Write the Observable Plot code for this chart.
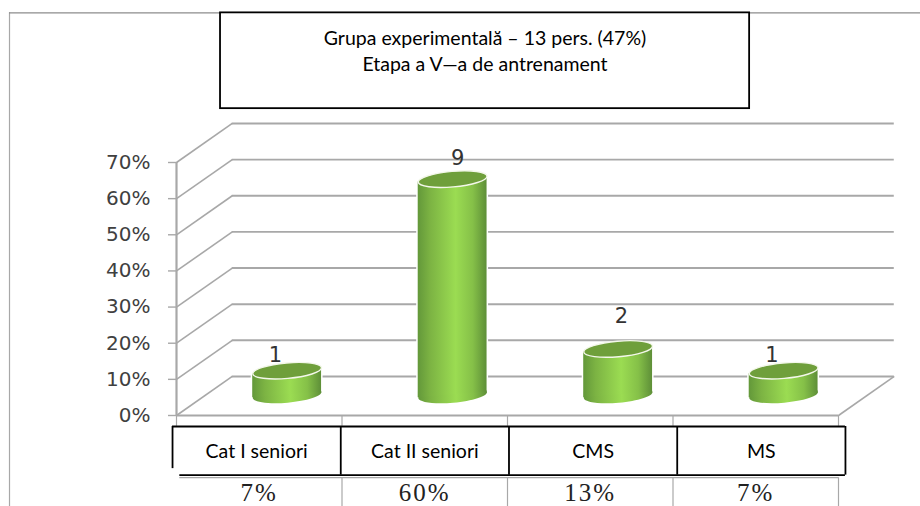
<!DOCTYPE html>
<html>
<head>
<meta charset="utf-8">
<script src="https://cdn.jsdelivr.net/npm/d3@7"></script>
<script src="https://cdn.jsdelivr.net/npm/@observablehq/plot@0.6"></script>
<style>
  html, body { margin: 0; padding: 0; background: #fff; overflow: hidden; }
  svg { display: block; }
  .serif-pct text { letter-spacing: 2px; }
</style>
</head>
<body>
<div id="chart"></div>
<script>
// Training-stage results by sports category
const categories = ["Cat I seniori", "Cat II seniori", "CMS", "MS"];
const percentages = [7, 60, 13, 7];
const athletes = [1, 9, 2, 1];
const percentTicks = [0, 10, 20, 30, 40, 50, 60, 70];
const titleLines = ["Grupa experimentală – 13 pers. (47%)", "Etapa a V—a de antrenament"];
// Hand placement of the count labels relative to each cylinder: [across, above]
const labelNudge = [[-0.07, 4.4], [0.03, 5.8], [0.02, 9.1], [-0.07, 4.4]];

// Oblique projection of the chart box, in scale units
const depthX = 0.337;
const depthY = 10.8;
const radiusX = 0.208;
const tilt = 0.8;

const ellipseSymbol = (aspect, degrees) => ({
  draw(context, size) {
    const rx = Math.sqrt(size / Math.PI);
    const ry = rx * aspect;
    const t = (degrees * Math.PI) / 180;
    const k = 0.5523;
    const pt = (u, v) => [u * Math.cos(t) - v * Math.sin(t), u * Math.sin(t) + v * Math.cos(t)];
    const seg = (a, b, c) => context.bezierCurveTo(...pt(...a), ...pt(...b), ...pt(...c));
    context.moveTo(...pt(rx, 0));
    seg([rx, ry * k], [rx * k, ry], [0, ry]);
    seg([-rx * k, ry], [-rx, ry * k], [-rx, 0]);
    seg([-rx, -ry * k], [-rx * k, -ry], [0, -ry]);
    seg([rx * k, -ry], [rx, -ry * k], [rx, 0]);
    context.closePath();
  }
});
const cap = ellipseSymbol(0.225, -5);

const bars = categories.map((name, i) => ({
  name,
  pct: percentages[i],
  count: athletes[i],
  center: i + 0.5 + depthX / 2,
  base: depthY / 2 + 0.3,
  top: percentages[i] + depthY / 2,
  labelX: i + 0.5 + depthX / 2 + labelNudge[i][0],
  labelY: percentages[i] + depthY / 2 + labelNudge[i][1]
}));

// Two-point strip per cylinder: its tilted side wall
const walls = bars.flatMap((b) => [
  { name: b.name, x: b.center - radiusX, y1: b.base - tilt, y2: b.top - tilt },
  { name: b.name, x: b.center + radiusX, y1: b.base + tilt, y2: b.top + tilt }
]);

const gradient = () => {
  const defs = d3.create("svg:defs");
  const g = defs.append("linearGradient").attr("id", "cylinder").attr("x1", 0).attr("x2", 1).attr("y1", 0).attr("y2", 0);
  [[0, "#63983a"], [0.18, "#7cb343"], [0.55, "#9bdc52"], [0.8, "#85c048"], [1, "#5e8f38"]].forEach(([o, c]) =>
    g.append("stop").attr("offset", o).attr("stop-color", c)
  );
  return defs.node();
};

const grey = "#a8a8a8";
const wallLine = { stroke: grey, strokeWidth: 1.9 };
const black = { stroke: "#000", strokeWidth: 1.8 };
const boxLeft = -0.024;
const boxStep = 1.0165;
const sans = "Lato";

const chart = Plot.plot({
  width: 920,
  height: 506,
  marginLeft: 176,
  marginRight: 82,
  marginTop: 162,
  marginBottom: 91,
  x: { type: "linear", domain: [0, 4], axis: null },
  y: { type: "linear", domain: [0, 70], axis: null },
  style: { background: "#fff", overflow: "visible" },
  marks: [
    gradient,
    // Page border, open on the right and at the bottom
    Plot.ruleX([-1.009], { y1: 111.4, y2: -25.2, stroke: grey, strokeWidth: 1.2 }),
    Plot.ruleY([111.4], { x1: -1.009, x2: 4.5, stroke: "#8c8c8c", strokeWidth: 1.2 }),

    // Walls of the chart box
    Plot.link(percentTicks, { x1: 0, x2: depthX, y1: (d) => d, y2: (d) => d + depthY, ...wallLine, strokeWidth: 1.6 }),
    Plot.ruleY(percentTicks, { x1: depthX, x2: 4 + depthX, y: (d) => d + depthY, ...wallLine }),
    Plot.ruleY([0], { x1: 0, x2: 4, ...wallLine, strokeWidth: 2.2 }),
    Plot.link([0], { x1: 4, x2: 4 + depthX, y1: 0, y2: depthY, ...wallLine, strokeWidth: 1.6 }),
    Plot.ruleX(d3.range(5), { y1: 0, y2: -3, ...wallLine, strokeWidth: 1.2 }),
    Plot.axisY(percentTicks, {
      anchor: "left",
      label: null,
      tickFormat: (d) => `${d}%`,
      tickSize: 8,
      tickPadding: 18,
      stroke: grey,
      strokeWidth: 1.4,
      fill: "#404040",
      fontSize: 20,
      fontFamily: "DejaVu Sans"
    }),
    Plot.ruleX([0], { y1: 0, y2: 70, ...wallLine, strokeWidth: 2.2 }),

    // Cylinders
    Plot.areaY(walls, { x: "x", y1: "y1", y2: "y2", z: "name", fill: "none", stroke: "#fff", strokeWidth: 3 }),
    Plot.dot(bars, { x: "center", y: "base", r: 34.5, symbol: cap, fill: "url(#cylinder)", strokeWidth: 0 }),
    Plot.areaY(walls, { x: "x", y1: "y1", y2: "y2", z: "name", fill: "url(#cylinder)" }),
    Plot.dot(bars, { x: "center", y: "top", r: 34.5, symbol: cap, fill: "#6f9f3b", stroke: "#f3f7ea", strokeWidth: 1.4 }),
    Plot.text(bars, {
      x: "labelX",
      y: "labelY",
      text: "count",
      fontSize: 21,
      fontFamily: "DejaVu Sans",
      fill: "#333"
    }),

    // Category table
    Plot.ruleY([-17.2], { x1: 0.02, x2: 4, stroke: grey, strokeWidth: 1.4 }),
    Plot.ruleX(d3.range(1, 5), { y1: -17.2, y2: -25.2, stroke: grey, strokeWidth: 1.2 }),
    Plot.ruleY([-3.05], { x1: boxLeft, x2: boxLeft + 4 * boxStep, ...black }),
    Plot.ruleY([-16.5], { x1: 0.02, x2: boxLeft + 4 * boxStep, ...black }),
    Plot.ruleX(d3.range(1, 5), { x: (d) => boxLeft + d * boxStep, y1: -3.05, y2: -16.5, ...black }),
    Plot.ruleX([boxLeft], { y1: -3.05, y2: -14.7, ...black }),
    Plot.text(categories, {
      x: (d, i) => boxLeft + (i + 0.5) * boxStep,
      y: 0,
      dy: 36,
      text: (d) => d,
      fontSize: 19.5,
      fontFamily: sans,
      fill: "#000"
    }),
    Plot.text(percentages, {
      x: (d, i) => i + 0.5,
      y: 0,
      dy: 77,
      text: (d) => `${d}%`,
      fontSize: 25,
      fontFamily: "Liberation Serif",
      fill: "#222",
      className: "serif-pct"
    }),

    // Title box
    Plot.rect([0], { x1: 0.266, x2: 3.463, y1: 111.4, y2: 84.9, fill: "#fff", ...black }),
    Plot.text([titleLines.join("\n")], {
      x: 1.864,
      y: 70,
      dy: -112.5,
      text: (d) => d,
      lineHeight: 1.3,
      fontSize: 19.5,
      fontFamily: sans,
      fill: "#000"
    })
  ]
});
document.getElementById("chart").append(chart);
</script>
</body>
</html>
